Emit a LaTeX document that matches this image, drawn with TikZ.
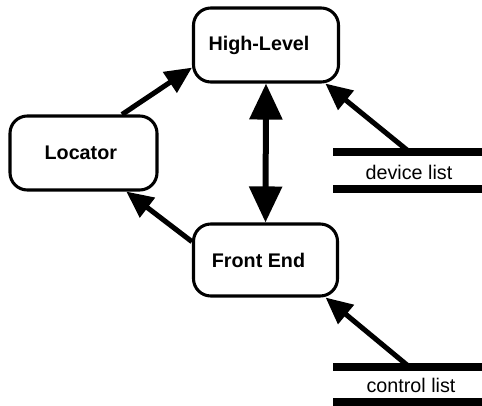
\documentclass[tikz,border=0pt]{standalone}
\usepackage{fontspec}
\setmainfont{Liberation Sans}
\usetikzlibrary{arrows.meta}
\begin{document}
\begin{tikzpicture}[x=0.75pt,y=-0.75pt,
  box/.style={draw,line width=2.3pt,rounded corners=13pt,font=\fontsize{14.8pt}{16pt}\selectfont\bfseries,inner sep=0pt},
  arr/.style={line width=3.8pt,-{Triangle[length=20pt,width=18pt]}},
  bigarr/.style={line width=4.5pt,{Triangle[length=27pt,width=24pt]}-{Triangle[length=27pt,width=24pt]}},
  lbl/.style={font=\fontsize{14.8pt}{16pt}\selectfont,inner sep=0pt},
  bar/.style={line width=5.5pt}]
\useasboundingbox (0,0) rectangle (482,406);
\node[box,minimum width=108.75pt,minimum height=55.5pt] (hl) at (266,45) {\hspace*{-10.5pt}High-Level};
\node[box,minimum width=110.25pt,minimum height=55.5pt] (loc) at (83.5,153) {\hspace*{-4pt}Locator};
\node[box,minimum width=108pt,minimum height=54pt] (fe) at (265.5,260) {\hspace*{-10.5pt}Front End};
% device list
\coordinate (d1) at (333,152); \coordinate (d2) at (482,152);
\coordinate (d3) at (333,189); \coordinate (d4) at (482,189);
\draw[bar] (d1) -- (d2);
\draw[bar] (d3) -- (d4);
\node[lbl] (dl) at (409,172) {device list};
\coordinate (dlc) at (407,150);
% control list
\coordinate (c1) at (333,367); \coordinate (c2) at (482,367);
\coordinate (c3) at (333,402); \coordinate (c4) at (482,402);
\draw[bar] (c1) -- (c2);
\draw[bar] (c3) -- (c4);
\node[lbl] (cl) at (411,385) {control list};
\coordinate (clc) at (407,365);
% arrows
\draw[arr] (loc.45) -- (hl.197);
\draw[arr] (fe.166) -- (loc.318);
\draw[arr] (dlc) -- (hl.327);
\draw[arr] (clc) -- (fe.328);
\draw[bigarr] (hl.south) -- (fe.north);
\end{tikzpicture}
\end{document}
